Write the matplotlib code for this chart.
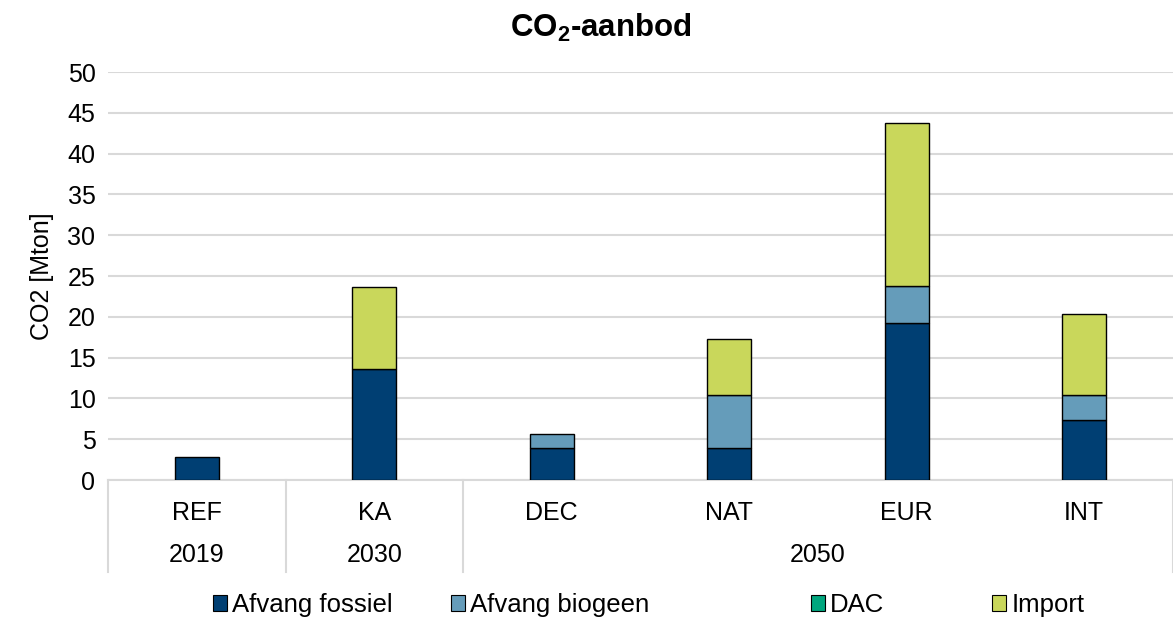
import numpy as np
import matplotlib
matplotlib.use("Agg")
import matplotlib.pyplot as plt
from matplotlib.patches import Patch

plt.rcParams['font.family'] = ['Liberation Sans', 'DejaVu Sans']
plt.rcParams['mathtext.fontset'] = 'custom'
plt.rcParams['mathtext.rm'] = 'Liberation Sans'
plt.rcParams['mathtext.bf'] = 'Liberation Sans:bold'

# data (Mton CO2)
scenarios = ['REF', 'KA', 'DEC', 'NAT', 'EUR', 'INT']
years = ['2019', '2030', '2050']
year_span = [(0, 0), (1, 1), (2, 5)]
series = ['Afvang fossiel', 'Afvang biogeen', 'DAC', 'Import']
afvang_fossiel = [2.8, 13.6, 3.9, 3.9, 19.2, 7.4]
afvang_biogeen = [0.0, 0.0, 1.7, 6.5, 4.6, 3.0]
dac = [0.0, 0.0, 0.0, 0.0, 0.0, 0.0]
import_ = [0.0, 10.0, 0.0, 6.9, 20.0, 10.0]
colors = ['#003f73', '#659cba', '#00a67e', '#c9d75b']

W, H = 1173, 619
fig = plt.figure(figsize=(W / 100, H / 100), dpi=100)
ax = fig.add_axes([108 / W, 139 / H, 1 - 108 / W, (480 - 72) / H])

x = np.arange(len(scenarios))
bottom = np.zeros(len(scenarios))
for name, vals, col in zip(series, [afvang_fossiel, afvang_biogeen, dac, import_], colors):
    vals = np.array(vals)
    mask = vals > 0
    ax.bar(x[mask], vals[mask], 0.25, bottom=bottom[mask], color=col,
           edgecolor='black', linewidth=1, zorder=3)
    bottom += vals

ax.set_xlim(-0.5, len(scenarios) - 0.5)
ax.set_ylim(0, 50)
ax.set_yticks(range(0, 51, 5))
ax.tick_params(axis='y', length=0, labelsize=18, pad=9)
ax.tick_params(axis='x', length=0)
ax.set_xticks([])
ax.yaxis.grid(True, color='#d9d9d9', linewidth=1.5, zorder=0)
for s in ['top', 'right', 'left']:
    ax.spines[s].set_visible(False)
ax.spines['bottom'].set_color('#d9d9d9')
ax.spines['bottom'].set_linewidth(1.5)
ax.set_ylabel('CO2 [Mton]', fontsize=18, labelpad=10)

# category labels
trans = ax.get_xaxis_transform()
for i, s in enumerate(scenarios):
    ax.text(i, -0.08, s, transform=trans, ha='center', va='center', fontsize=18)
for y, (a, b) in zip(years, year_span):
    ax.text((a + b) / 2, -0.185, y, transform=trans, ha='center', va='center', fontsize=18)
for sep in [-0.5, 0.5, 1.5, 5.5]:
    ax.plot([sep, sep], [0, -0.225], transform=trans, color='#d9d9d9',
            linewidth=1.5, clip_on=False)

fig.text(601 / W, 1 - 28 / H, r'CO$_\mathbf{2}$-aanbod', ha='center', va='center',
         fontsize=22.5, fontweight='bold')

# legend entries placed like the original (uneven spacing)
leg_x = [213, 451, 811, 992]
for xp, c, name in zip(leg_x, colors, series):
    h = Patch(facecolor=c, edgecolor='black', linewidth=0.8)
    fig.legend([h], [name], loc='center left', bbox_to_anchor=(xp / W, 1 - 605 / H),
               frameon=False, fontsize=18.5, handlelength=0.55, handleheight=0.55,
               handletextpad=0.2, borderpad=0, borderaxespad=0)

fig.savefig('out.png', dpi=100)
